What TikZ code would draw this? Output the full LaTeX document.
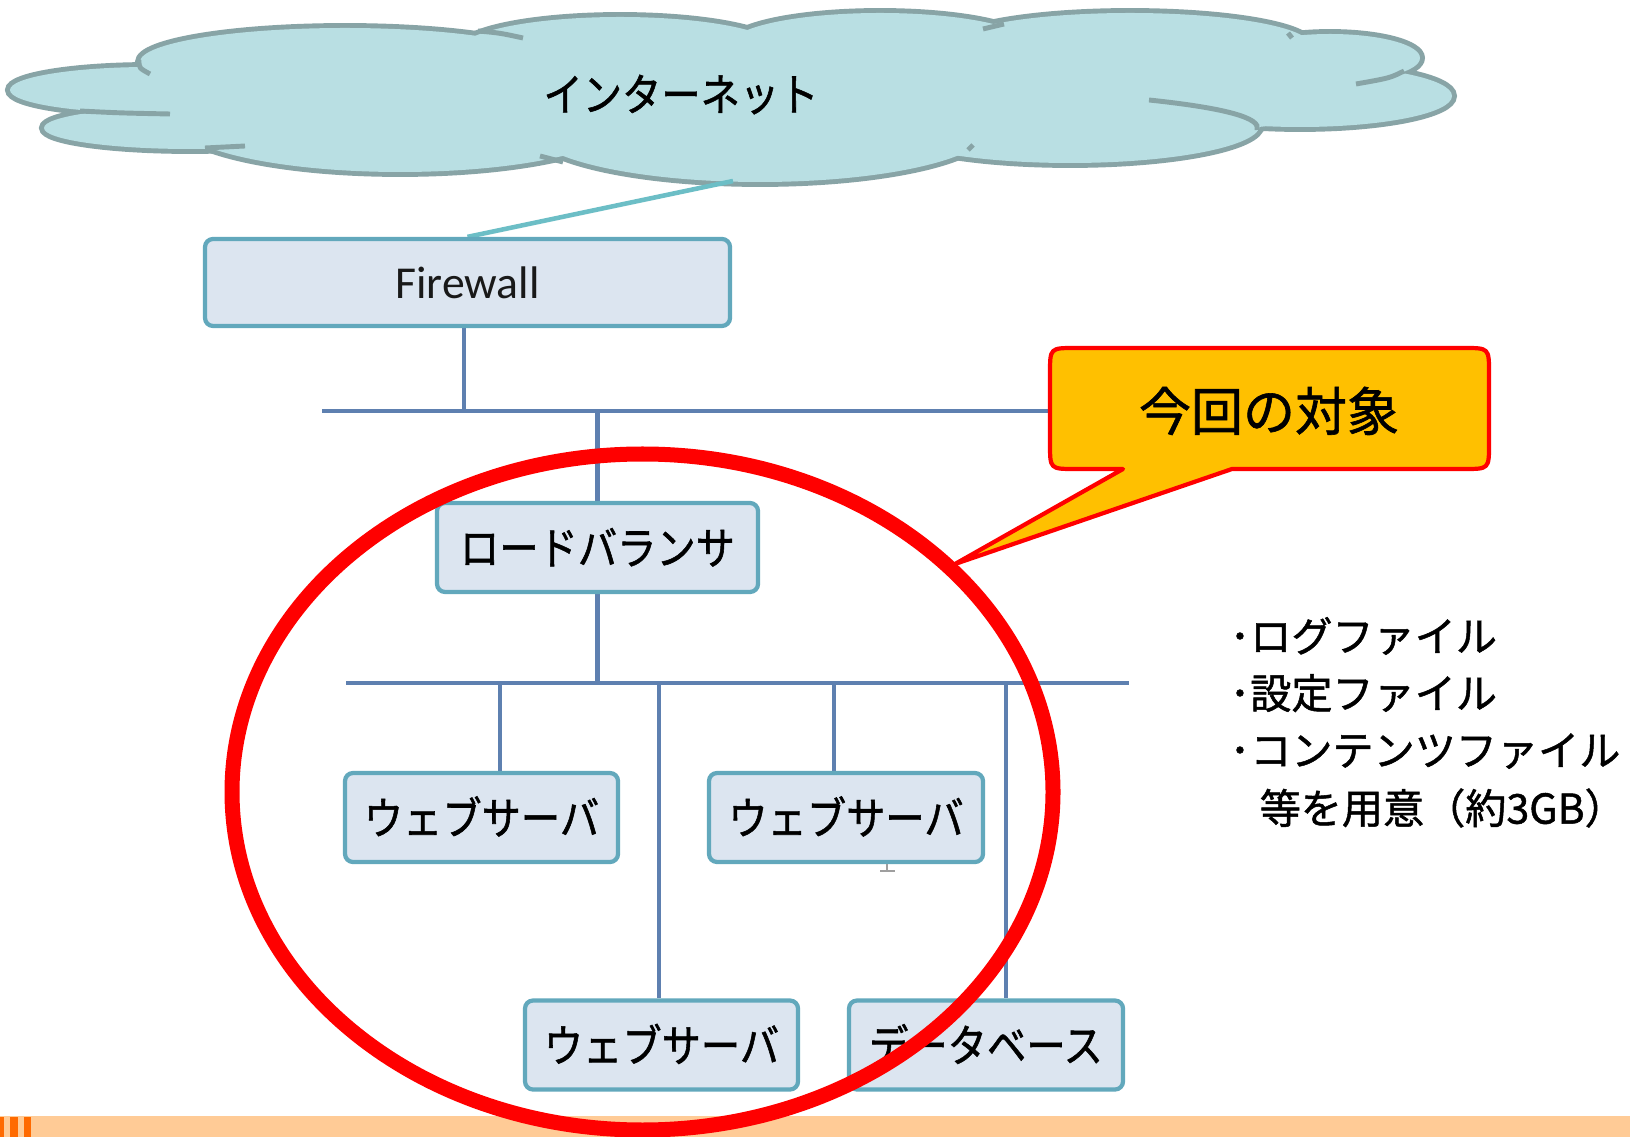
\documentclass[tikz,border=0pt]{standalone}
\usepackage{fontspec}
\usepackage{graphicx}
\newfontfamily\jp[FakeBold=1.2]{Noto Sans CJK JP}
\newfontfamily\jpn[FakeStretch=0.88,FakeBold=1.2]{Noto Sans CJK JP}
\newfontfamily\fwfont{Carlito}
\definecolor{cloudfill}{HTML}{B9DFE3}
\definecolor{cloudline}{HTML}{88A4A6}
\definecolor{cloudlink}{HTML}{6CBEC6}
\definecolor{boxfill}{HTML}{DCE5F0}
\definecolor{boxline}{HTML}{62A8BC}
\definecolor{busline}{HTML}{5E80B0}
\definecolor{callfill}{HTML}{FFC000}
\definecolor{bandc}{HTML}{FFCB96}
\definecolor{barc}{HTML}{FF6A00}
\pgfdeclarelayer{bg}
\pgfsetlayers{bg,main}
\begin{document}
\begin{tikzpicture}[x=0.1mm, y=-0.1mm,
  box/.style={draw=boxline, fill=boxfill, line width=1.2pt, rounded corners=0.8mm, inner sep=0pt, minimum height=8.9mm},
  jlabel/.style={font=\jpn\fontsize{12.7}{15}\selectfont, text height=11.2pt, text depth=1.5pt, inner sep=0pt},
  note/.style={font=\jp\fontsize{11.7}{14}\selectfont, text height=10.3pt, text depth=1.4pt, inner sep=0pt, anchor=west},
  bus/.style={draw=busline, line width=1.25pt},
  link/.style={draw=cloudlink, line width=1.3pt},
  cloudedge/.style={draw=cloudline, line width=2.8pt},
  cloudinner/.style={draw=cloudline, line width=1.4pt},
  callout/.style={draw=red, fill=callfill, line width=1.2pt, line join=round}
]
\useasboundingbox (0,0) rectangle (1630,1137);

% boxes
\node[box, minimum width=52.5mm, minimum height=8.7mm, font=\fwfont\fontsize{13}{15}\selectfont, text=black!90] (fw) at (467.5,282.5) {Firewall};
\node[box, jlabel, minimum width=32.1mm, minimum height=8.9mm] (lb) at (597.5,547.5) {ロードバランサ};
\node[box, jlabel, minimum width=27.3mm, minimum height=8.9mm] (ws1) at (481.5,817.5) {ウェブサーバ};
\node[box, jlabel, minimum width=27.4mm, minimum height=8.9mm] (ws2) at (846,817.5) {ウェブサーバ};
\node[box, jlabel, minimum width=27.3mm, minimum height=8.9mm] (ws3) at (661.5,1045) {ウェブサーバ};
\node[box, jlabel, minimum width=27.4mm, minimum height=8.9mm] (db) at (986,1045) {データベース};

% small mark under second web server
\draw[gray!75, line width=0.8pt] (887,864) -- (887,871) (880,871) -- (895,871);

% notes
\node[note] (n1) at (1229,636) {･ログファイル};
\node[note] (n2) at (1229,693) {･設定ファイル};
\node[note] (n3) at (1229,750) {･コンテンツファイル};
\node[note] (n4) at (1259,808) {等を用意（約3GB）};

\begin{pgfonlayer}{bg}
  \fill[white] (0,0) rectangle (1630,1137);
  % cloud
  \foreach \cx/\cy/\rx/\ry in {150/90/140/23, 190/128/146/21, 400/120/225/52, 760/128/230/54, 1070/125/190/38, 1300/96/152/31, 1330/58/90/24, 1130/45/180/32, 880/45/150/32, 620/50/160/33, 345/62/205/34}
    {\draw[cloudedge] (\cx,\cy) ellipse [x radius=\rx, y radius=\ry];}
  \foreach \cx/\cy/\rx/\ry in {150/90/140/23, 190/128/146/21, 400/120/225/52, 760/128/230/54, 1070/125/190/38, 1300/96/152/31, 1330/58/90/24, 1130/45/180/32, 880/45/150/32, 620/50/160/33, 345/62/205/34}
    {\fill[cloudfill] (\cx,\cy) ellipse [x radius=\rx, y radius=\ry];}
  \fill[cloudfill] (730,95) ellipse [x radius=650, y radius=55];
  \draw[cloudinner] (80,111) .. controls (120,113) .. (170,114);
  \draw[cloudinner] (139,60) .. controls (139,68) .. (150,74);
  \draw[cloudinner] (205,148) -- (245,146);
  \draw[cloudinner] (540,156) -- (563,162);
  \draw[cloudinner] (478,31) .. controls (500,33) .. (523,38);
  \draw[cloudinner] (983,29) -- (1004,24);
  \draw[cloudinner] (1288,33) -- (1292,38);
  \draw[cloudinner] (1404,71) .. controls (1390,78) .. (1356,84);
  \draw[cloudinner] (1149,100) .. controls (1225,108) and (1262,118) .. (1257,130);
  \draw[cloudinner] (968,150) -- (973,145);
  % connectors
  \coordinate (cl) at (733,181);
  \draw[link] (cl) -- (fw.north);
  \coordinate (b1L) at (322,411);
  \coordinate (b1R) at (1050,411);
  \draw[bus] (b1L) -- (b1R);
  \draw[bus] ([xshift=-0.35mm]fw.south) -- ([xshift=-0.35mm]fw.south |- b1L);
  \draw[bus] (lb.north |- b1L) -- (lb.north);
  \coordinate (b2L) at (346,683);
  \coordinate (b2R) at (1129,683);
  \draw[bus] (b2L) -- (b2R);
  \draw[bus] (lb.south) -- (lb.south |- b2L);
  \coordinate (d1) at (500,683);
  \coordinate (d2) at (834,683);
  \coordinate (d3) at (659,683);
  \coordinate (d4) at (1006,683);
  \draw[bus] (d1) -- (d1 |- ws1.north);
  \draw[bus] (d2) -- (d2 |- ws2.north);
  \draw[bus] (d3) -- (d3 |- ws3.north);
  \draw[bus] (d4) -- (d4 |- db.north);
\end{pgfonlayer}

\node[jlabel] (inet) at (681,94) {インターネット};

% bottom band
\fill[bandc] (0,1116) rectangle (1630,1137);
\fill[barc] (0,1117) rectangle (4,1137);
\fill[barc] (10,1117) rectangle (18,1137);
\fill[barc] (24,1117) rectangle (31,1137);

% red ellipse
\draw[red, line width=4.27pt] (642.5,792) ellipse [x radius=410.5, y radius=338];

% callout
\draw[callout] (1232,469) -- (1464,469) .. controls (1489,469) .. (1489,444) -- (1489,373) .. controls (1489,348) .. (1464,348) -- (1075,348) .. controls (1050,348) .. (1050,373) -- (1050,444) .. controls (1050,469) .. (1075,469) -- (1123,469) -- (955,564) -- cycle;
\node[font=\jp\fontsize{14.8}{17}\selectfont, text height=13pt, text depth=1.8pt, inner sep=0pt] (tgt) at (1269,411) {今回の対象};
\end{tikzpicture}
\end{document}
